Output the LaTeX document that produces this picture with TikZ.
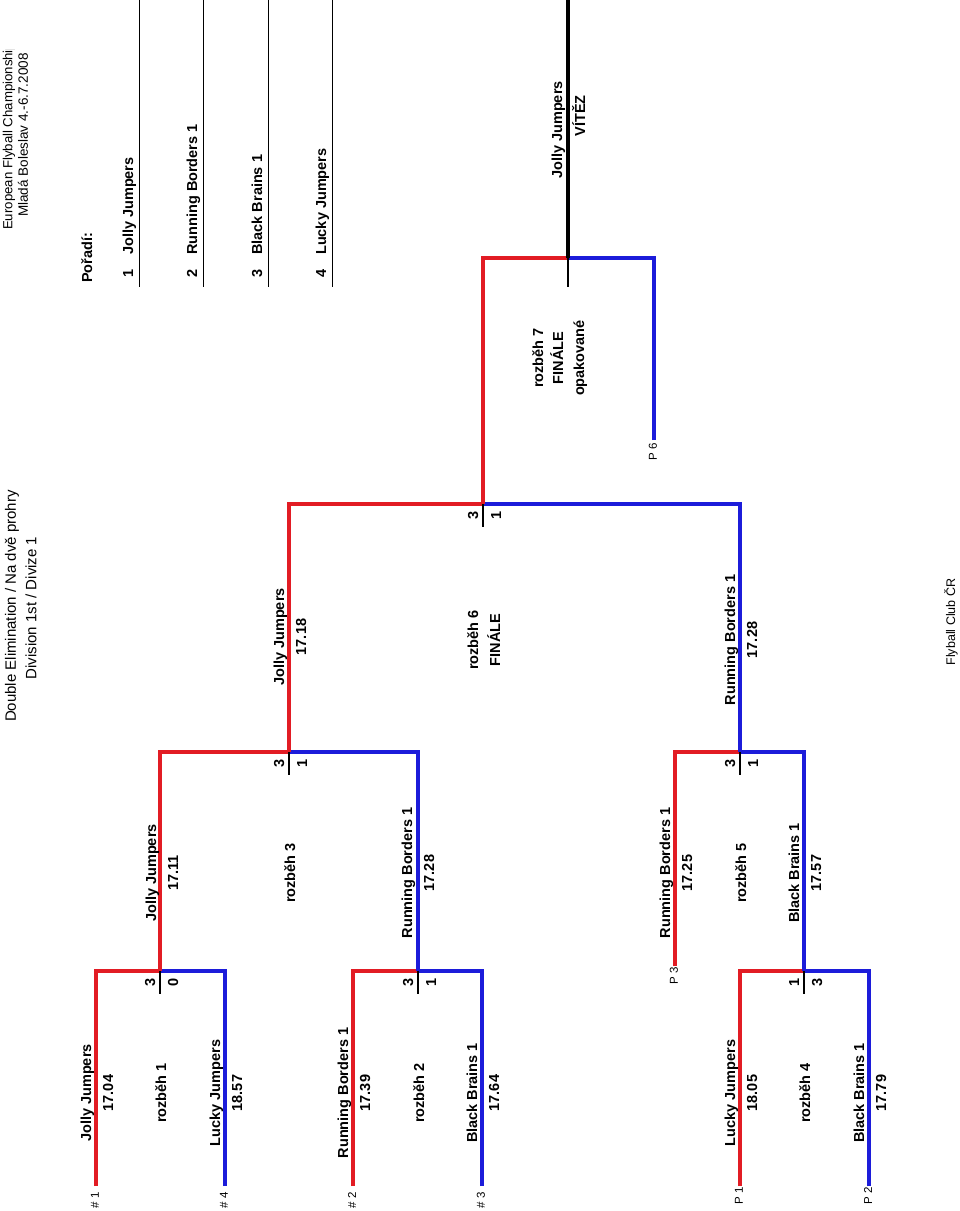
\documentclass[tikz,border=0pt]{standalone}
\usepackage{fontspec}
\setmainfont{Liberation Sans}
\usetikzlibrary{positioning}
\definecolor{heatred}{RGB}{226,28,36}
\definecolor{heatblue}{RGB}{28,28,218}

\begin{document}
\begin{tikzpicture}[x=1pt, y=-1pt,
        team/.style={rotate=90, anchor=base, inner sep=0pt, font=\fontsize{14.5}{17}\selectfont\bfseries},
        plain/.style={rotate=90, inner sep=0pt, font=\fontsize{15}{18}\selectfont},
        seed/.style={rotate=90, inner sep=0pt, font=\fontsize{11.5}{13}\selectfont},
        redline/.style={draw=heatred, line width=4pt},
        blueline/.style={draw=heatblue, line width=4pt},
        tick/.style={draw=black, line width=1.2pt},
        rankline/.style={draw=black, line width=1pt}]
        \useasboundingbox (0,0) rectangle (960,1211);
        % header
        \begin{scope}
          \clip (0,49) rectangle (40,260);
          \node[plain, anchor=west, font=\fontsize{13.2}{16}\selectfont] (event) at (9,230) {European Flyball Championship};
        \end{scope}
        \node[plain, font=\fontsize{13.5}{16}\selectfont] (place) at (23,135) {Mladá Boleslav 4.-6.7.2008};
        \node[plain] (title) at (12,606) {Double Elimination / Na dvě prohry};
        \node[plain] (division) at (31,608) {Division 1st / Divize 1};
        \node[plain, font=\fontsize{12.5}{15}\selectfont] (club) at (951,622) {Flyball Club ČR};
        % order
        \node[team, anchor=base west] (order) at (92,283) {Pořadí:};
        \foreach \r/\x/\name in {1/139/Jolly Jumpers, 2/203/Running Borders 1, 3/268/Black Brains 1, 4/332/Lucky Jumpers} {
          \coordinate (rank\r) at (\x,0);
          \draw[rankline] (rank\r) -- ++(0,287);
          \node[team] (place\r) at (\x-6,273) {\r};
          \node[team, anchor=base west] (name\r) at (\x-6,255) {\name};
        }
        % ends and joins
        \coordinate (s1) at (96,1186);
        \coordinate (s4) at (225,1186);
        \coordinate (s2) at (353,1186);
        \coordinate (s3) at (482,1186);
        \coordinate (p1) at (740,1186);
        \coordinate (p2) at (869,1186);
        \coordinate (p3) at (675,966);
        \coordinate (p6) at (654,440);
        \coordinate (m1) at (160,971);
        \coordinate (m2) at (418,971);
        \coordinate (m3) at (289,752);
        \coordinate (m4) at (804,971);
        \coordinate (m5) at (740,752);
        \coordinate (m6) at (483,504);
        \coordinate (m7) at (568,258);
        \coordinate (champ) at (568,0);
        % bracket
        \draw[redline] (s1) |- (m1);
        \draw[blueline] (s4) |- (m1);
        \draw[redline] (s2) |- (m2);
        \draw[blueline] (s3) |- (m2);
        \draw[redline] (m1) |- (m3);
        \draw[blueline] (m2) |- (m3);
        \draw[redline] (p1) |- (m4);
        \draw[blueline] (p2) |- (m4);
        \draw[redline] (p3) |- (m5);
        \draw[blueline] (m4) |- (m5);
        \draw[redline] (m3) |- (m6);
        \draw[blueline] (m5) |- (m6);
        \draw[redline] (m6) |- (m7);
        \draw[blueline] (p6) |- (m7);
        \draw[line width=4.5pt] (m7) -- (champ);
        \foreach \m in {m1,m2,m3,m4,m5,m6} \draw[tick] (\m) -- ++(0,23);
        \draw[tick] (m7) -- ++(0,29);
        % seeds
        \node[seed] (l1) at (95,1200) {\# 1};
        \node[seed] (l4) at (224,1200) {\# 4};
        \node[seed] (l2) at (352,1200) {\# 2};
        \node[seed] (l3) at (481,1200) {\# 3};
        \node[seed] (lp1) at (739,1196) {P 1};
        \node[seed] (lp2) at (868,1196) {P 2};
        \node[seed] (lp3) at (674,976) {P 3};
        \node[seed] (lp6) at (653,452) {P 6};
        % rozbeh 1
        \node[team] (t11) at (91,1093) {Jolly Jumpers};
        \node[team] (c11) at (113,1093) {17.04};
        \node[team] (r1) at (166,1093) {rozběh 1};
        \node[team] (t12) at (220,1093) {Lucky Jumpers};
        \node[team] (c12) at (242,1093) {18.57};
        \node[team] (a1) at (155,982) {3};
        \node[team] (b1) at (178,982) {0};
        % rozbeh 2
        \node[team] (t21) at (348,1093) {Running Borders 1};
        \node[team] (c21) at (370,1093) {17.39};
        \node[team] (r2) at (424,1093) {rozběh 2};
        \node[team] (t22) at (477,1093) {Black Brains 1};
        \node[team] (c22) at (499,1093) {17.64};
        \node[team] (a2) at (413,982) {3};
        \node[team] (b2) at (436,982) {1};
        % rozbeh 3
        \node[team] (t31) at (156,873) {Jolly Jumpers};
        \node[team] (c31) at (178,873) {17.11};
        \node[team] (r3) at (295,873) {rozběh 3};
        \node[team] (t32) at (412,873) {Running Borders 1};
        \node[team] (c32) at (434,873) {17.28};
        \node[team] (a3) at (284,763) {3};
        \node[team] (b3) at (307,763) {1};
        % rozbeh 4
        \node[team] (t41) at (735,1093) {Lucky Jumpers};
        \node[team] (c41) at (757,1093) {18.05};
        \node[team] (r4) at (810,1093) {rozběh 4};
        \node[team] (t42) at (864,1093) {Black Brains 1};
        \node[team] (c42) at (886,1093) {17.79};
        \node[team] (a4) at (799,982) {1};
        \node[team] (b4) at (822,982) {3};
        % rozbeh 5
        \node[team] (t51) at (670,873) {Running Borders 1};
        \node[team] (c51) at (692,873) {17.25};
        \node[team] (r5) at (746,873) {rozběh 5};
        \node[team] (t52) at (799,873) {Black Brains 1};
        \node[team] (c52) at (821,873) {17.57};
        \node[team] (a5) at (735,763) {3};
        \node[team] (b5) at (758,763) {1};
        % rozbeh 6
        \node[team] (t61) at (284,637) {Jolly Jumpers};
        \node[team] (c61) at (306,637) {17.18};
        \node[team] (r6) at (478,640) {rozběh 6};
        \node[team] (f6) at (500,640) {FINÁLE};
        \node[team] (t62) at (735,640) {Running Borders 1};
        \node[team] (c62) at (757,640) {17.28};
        \node[team] (a6) at (478,515) {3};
        \node[team] (b6) at (501,515) {1};
        % rozbeh 7
        \node[team] (r7) at (543,358) {rozběh 7};
        \node[team] (f7) at (563,358) {FINÁLE};
        \node[team] (o7) at (584,358) {opakované};
        \node[team] (win) at (562,130) {Jolly Jumpers};
        \node[team] (vitez) at (585,116) {VÍTĚZ};
      \end{tikzpicture}
\end{document}
